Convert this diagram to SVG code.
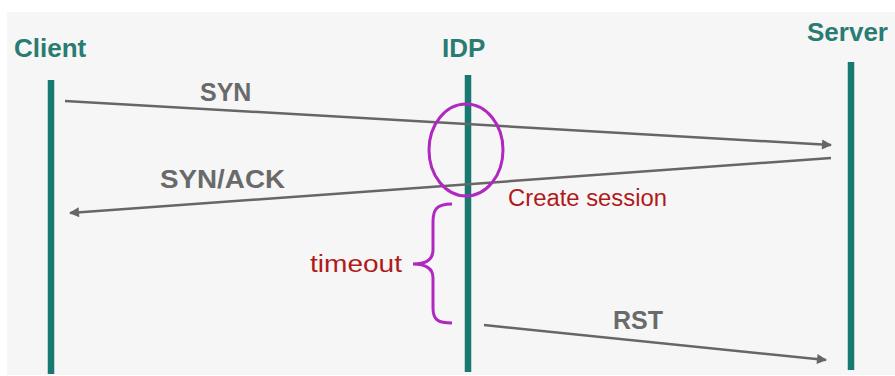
<svg xmlns="http://www.w3.org/2000/svg" width="895" height="376" viewBox="0 0 895 376">
<style>
.life{stroke:#17796f;stroke-width:6.5;fill:none}
.actor{font-family:"Liberation Sans",Arial,sans-serif;font-weight:bold;font-size:26px;fill:#2a7c72}
.msg{stroke:#666;stroke-width:2.5;fill:none;marker-end:url(#ah)}
.mlabel{font-family:"Liberation Sans",Arial,sans-serif;font-weight:bold;font-size:25px;fill:#6a6a6a}
.note{font-family:"Liberation Sans",Arial,sans-serif;font-size:23px;fill:#b01a1a}
.mark{stroke:#b028c0;stroke-width:3;fill:none}
</style>
<defs>
<marker id="ah" viewBox="0 0 10 10" refX="9" refY="5" markerWidth="5" markerHeight="4" orient="auto" markerUnits="strokeWidth">
<path d="M0,0 L10,5 L0,10 z" fill="#666"/>
</marker>
</defs>
<rect x="0" y="0" width="895" height="376" fill="#ffffff"/>
<rect x="7" y="12" width="888" height="363" fill="#f6f6f6"/>
<g id="client">
<text class="actor" x="14" y="57">Client</text>
<line class="life" x1="51" y1="80" x2="51" y2="374"/>
</g>
<g id="idp">
<text class="actor" x="442" y="57">IDP</text>
<line class="life" x1="468" y1="75" x2="468" y2="372"/>
</g>
<g id="server">
<text class="actor" x="807" y="41">Server</text>
<line class="life" x1="851" y1="62" x2="851" y2="370"/>
</g>
<g id="connectors">
<line class="msg" x1="65" y1="101" x2="831" y2="145"/>
<line class="msg" x1="831" y1="158" x2="70" y2="213"/>
<line class="msg" x1="484" y1="325" x2="826" y2="360"/>
</g>
<g id="labels">
<text class="mlabel" x="200" y="101">SYN</text>
<text class="mlabel" x="160" y="188" textLength="125" lengthAdjust="spacingAndGlyphs">SYN/ACK</text>
<text class="mlabel" x="613" y="329">RST</text>
<text class="note" x="508" y="206" textLength="159" lengthAdjust="spacingAndGlyphs">Create session</text>
<text class="note" x="310" y="272" textLength="92" lengthAdjust="spacingAndGlyphs">timeout</text>
</g>
<g id="session-mark">
<ellipse class="mark" cx="466" cy="150" rx="37" ry="46"/>
</g>
<g id="timeout-brace">
<path class="mark" d="M452,204 C436,204 433,210 433,222 L433,250 C433,260 425,264 413,264 C425,264 433,268 433,278 L433,308 C433,320 438,323 452,323"/>
</g>
</svg>
